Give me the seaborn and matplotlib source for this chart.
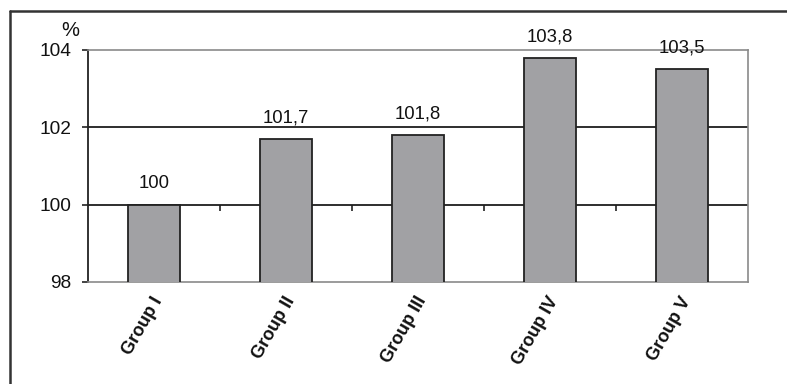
import matplotlib
matplotlib.use("Agg")
import matplotlib.pyplot as plt
from matplotlib.lines import Line2D
from matplotlib.transforms import ScaledTranslation
import seaborn as sns

groups = ["Group I", "Group II", "Group III", "Group IV", "Group V"]
values = [100.0, 101.7, 101.8, 103.8, 103.5]
y_ticks = [98, 100, 102, 104]

sns.set_theme(style="white")
plt.rcParams["font.family"] = ["Liberation Sans", "DejaVu Sans"]

fig = plt.figure(figsize=(7.87, 3.84), dpi=100)
ax = fig.add_axes([88 / 787, 1 - 282 / 384, 660 / 787, 232 / 384])

sns.barplot(x=groups, y=values, color="#a1a1a4", width=0.4,
            edgecolor="#222222", linewidth=1.3, saturation=1, ax=ax, zorder=3)

ax.set_ylim(98, 104)
ax.set_xlim(-0.5, len(groups) - 0.5)
ax.set_yticks(y_ticks)
ax.set_yticklabels([str(t) for t in y_ticks], fontsize=13.8, color="#111111")
ax.tick_params(axis="y", length=4, width=1.2, color="#222222", pad=8, left=True)
ax.set_xlabel("")
ax.set_ylabel("")

# inner gridlines dark, frame of the plot area grey
for t in y_ticks[1:-1]:
    ax.axhline(t, color="#1e1e1e", lw=1.3, zorder=2)
for side in ["top", "right", "bottom"]:
    ax.spines[side].set_color("#8a8a8a")
    ax.spines[side].set_linewidth(1.2)
ax.spines["left"].set_color("#222222")
ax.spines["left"].set_linewidth(1.3)

# category separators hanging from the 100 line
sec = ax.secondary_xaxis((100 - 98) / (104 - 98))
sec.set_xticks([i + 0.5 for i in range(len(groups) - 1)])
sec.tick_params(axis="x", length=4, width=1.2, color="#222222", labelbottom=False,
                direction="out")
sec.spines["bottom"].set_visible(False)

ax.tick_params(axis="x", length=0, pad=10)
ax.set_xticks(range(len(groups)))
ax.set_xticklabels(groups, rotation=60, ha="right", va="center",
                   rotation_mode="anchor", fontsize=13, fontweight="bold",
                   color="#111111")
for lab in ax.get_xticklabels():
    lab.set_transform(lab.get_transform() +
                      ScaledTranslation(0.05, -0.02, fig.dpi_scale_trans))

ax.bar_label(ax.containers[0],
             labels=[f"{v:g}".replace(".", ",") for v in values],
             padding=9, fontsize=13.3, color="#111111")

ax.annotate("%", xy=(0, 1), xycoords="axes fraction", xytext=(-13, 14),
            textcoords="offset points", ha="center", va="center",
            fontsize=14.5, color="#111111")

# outer frame (left and top edges)
fig.add_artist(Line2D([10 / 787, 10 / 787], [0, 1 - 11 / 384],
                      transform=fig.transFigure, color="#333333", lw=1.8))
fig.add_artist(Line2D([10 / 787, 1], [1 - 11 / 384, 1 - 11 / 384],
                      transform=fig.transFigure, color="#333333", lw=1.8))

fig.savefig("out.png", dpi=100)
